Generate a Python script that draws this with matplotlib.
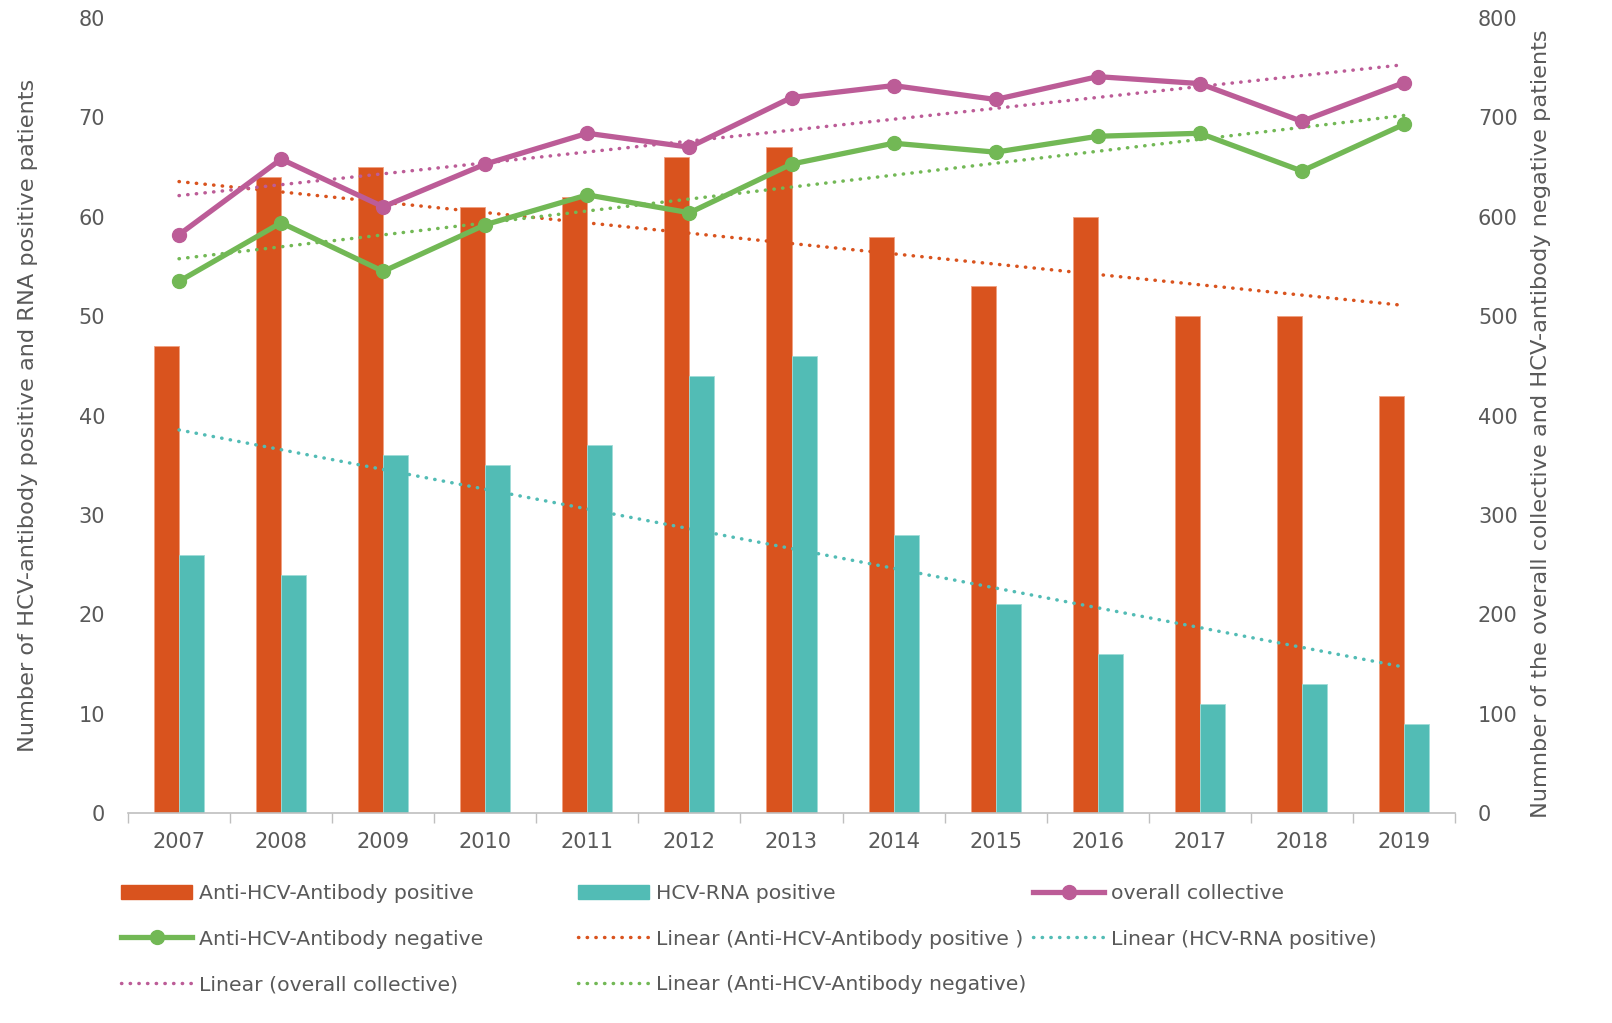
import numpy as np
import matplotlib
matplotlib.use("Agg")
import matplotlib.pyplot as plt
from matplotlib.patches import Patch
from matplotlib.lines import Line2D

years = ["2007", "2008", "2009", "2010", "2011", "2012", "2013",
         "2014", "2015", "2016", "2017", "2018", "2019"]
anti_pos = [47, 64, 65, 61, 62, 66, 67, 58, 53, 60, 50, 50, 42]
rna_pos = [26, 24, 36, 35, 37, 44, 46, 28, 21, 16, 11, 13, 9]
overall = [582, 658, 610, 653, 684, 670, 720, 732, 718, 741, 734, 696, 735]
anti_neg = [535, 594, 545, 592, 622, 604, 653, 674, 665, 681, 684, 646, 693]

C_ORANGE = "#D9531E"
C_TEAL = "#52BCB5"
C_MAG = "#BC5C97"
C_GREEN = "#72B855"
GRAY = "#595959"
AXGRAY = "#BFBFBF"

plt.rcParams['font.family'] = ['DejaVu Sans']
FS = 15
LFS = 14.7
YFS = 16.2

fig = plt.figure(figsize=(16.12, 10.23), dpi=100)
W, H = 1612, 1023
ax = fig.add_axes([128 / W, 1 - 813 / H, (1455 - 128) / W, (813 - 18) / H])
ax2 = ax.twinx()

x = np.arange(len(years))
bw = 0.245
ax.bar(x - bw / 2, anti_pos, bw, color=C_ORANGE, edgecolor="#F0A080", linewidth=0.6, zorder=2)
ax.bar(x + bw / 2, rna_pos, bw, color=C_TEAL, edgecolor="#A0DCD8", linewidth=0.6, zorder=2)

dot = (0, (0.1, 2.4))
def trend(axis, vals, color):
    p = np.polyfit(x, vals, 1)
    axis.plot(x, np.polyval(p, x), color=color, lw=2.5, linestyle=dot,
              dash_capstyle='round', zorder=3)

trend(ax, anti_pos, C_ORANGE)
trend(ax, rna_pos, C_TEAL)

ax2.plot(x, overall, color=C_MAG, lw=3.8, marker='o', ms=10, zorder=5)
ax2.plot(x, anti_neg, color=C_GREEN, lw=3.8, marker='o', ms=10, zorder=5)
trend(ax2, overall, C_MAG)
trend(ax2, anti_neg, C_GREEN)

ax.set_xlim(-0.5, len(years) - 0.5)
ax.set_ylim(0, 80)
ax2.set_ylim(0, 800)
ax.set_yticks(np.arange(0, 81, 10))
ax2.set_yticks(np.arange(0, 801, 100))
ax.set_xticks(x)
ax.set_xticklabels(years)
ax.set_xticks(np.arange(-0.5, len(years), 1), minor=True)
ax.tick_params(axis='x', which='major', length=0, pad=14, labelsize=FS, labelcolor=GRAY)
ax.tick_params(axis='x', which='minor', length=7, color=AXGRAY, width=1)
ax.tick_params(axis='y', length=0, pad=16.5, labelsize=FS, labelcolor=GRAY)
ax2.tick_params(axis='y', length=0, pad=16.5, labelsize=FS, labelcolor=GRAY)

for a in (ax, ax2):
    for s in ("top", "left", "right"):
        a.spines[s].set_visible(False)
ax2.spines["bottom"].set_visible(False)
ax.spines["bottom"].set_color(AXGRAY)
ax.spines["bottom"].set_linewidth(1.2)

fig.text(28 / W, 1 - 415 / H, "Number of HCV-antibody positive and RNA positive patients",
         rotation=90, ha='center', va='center', fontsize=YFS, color=GRAY)
fig.text(1541 / W, 1 - 424 / H, "Numnber of the overall collective and HCV-antibody negative patients",
         rotation=90, ha='center', va='center', fontsize=YFS, color=GRAY)

def lline(color, marker=False):
    if marker:
        return Line2D([0], [0], color=color, lw=3.8, marker='o', ms=10)
    return Line2D([0], [0], color=color, lw=2.5, linestyle=dot, dash_capstyle='round')

cols = [
    ([Patch(color=C_ORANGE), lline(C_GREEN, True), lline(C_MAG)],
     ["Anti-HCV-Antibody positive", "Anti-HCV-Antibody negative", "Linear (overall collective)"], 121),
    ([Patch(color=C_TEAL), lline(C_ORANGE), lline(C_GREEN)],
     ["HCV-RNA positive", "Linear (Anti-HCV-Antibody positive )", "Linear (Anti-HCV-Antibody negative)"], 578),
    ([lline(C_MAG, True), lline(C_TEAL)],
     ["overall collective", "Linear (HCV-RNA positive)"], 1033),
]
for handles, labels, px in cols:
    leg = fig.legend(handles, labels, loc='upper left',
                     bbox_to_anchor=(px / W, 1 - 884 / H), frameon=False,
                     fontsize=LFS, handlelength=3.5, handleheight=0.7,
                     handletextpad=0.3, labelspacing=1.3, borderpad=0, borderaxespad=0)
    for t in leg.get_texts():
        t.set_color(GRAY)

fig.savefig("out.png", dpi=100)
